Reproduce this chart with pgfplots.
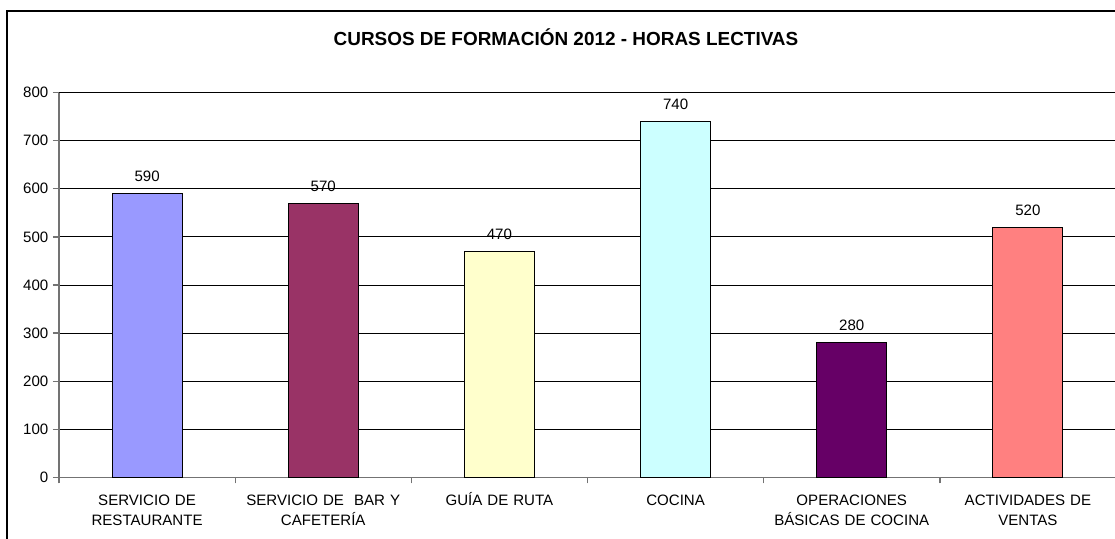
\documentclass[border=0pt]{standalone}
\usepackage{pgfplots}
\pgfplotsset{compat=1.18}
\usepackage{fontspec}
\setmainfont{Liberation Sans}
\definecolor{c1}{HTML}{9999FF}
\definecolor{c2}{HTML}{993366}
\definecolor{c3}{HTML}{FFFFCC}
\definecolor{c4}{HTML}{CCFFFF}
\definecolor{c5}{HTML}{660066}
\definecolor{c6}{HTML}{FF8080}
\begin{document}
\begin{tikzpicture}
\path[use as bounding box, clip] (0,0) rectangle (836.25pt,404.25pt);
\fill[white] (0,0) rectangle (836.25pt,404.25pt);
\draw[line width=1.3pt, black] (5.25pt,-20pt) -- (5.25pt,396pt) -- (900pt,396pt);
\node[anchor=base, font=\fontsize{14.2}{16}\selectfont\bfseries, inner sep=0pt] at (424.5pt,369.75pt) {CURSOS DE FORMACIÓN 2012 - HORAS LECTIVAS};
\begin{axis}[
  at={(44.25pt,46.125pt)}, anchor=south west,
  scale only axis, width=792.75pt, height=288.75pt,
  xmin=-0.5, xmax=5.5, ymin=0, ymax=800,
  axis x line*=bottom, axis y line*=left,
  axis line style={draw=black!55, line width=1.1pt},
  ybar, bar width=52.5pt,
  xtick={-0.5,0.5,...,5.5},
  x tick label as interval,
  xticklabels={\strut SERVICIO DE\\RESTAURANTE, \strut SERVICIO DE\ \ BAR Y\\CAFETERÍA, \strut GUÍA DE RUTA, \strut COCINA, \strut OPERACIONES\\BÁSICAS DE COCINA, \strut ACTIVIDADES DE\\VENTAS},
  x tick label style={font=\fontsize{11.3}{15}\selectfont, text width=150pt, align=center, yshift=-2.5pt},
  ytick={0,100,...,800},
  y tick label style={font=\fontsize{11.3}{13}\selectfont},
  /pgf/number format/assume math mode=true,
  tick align=outside, major tick length=4.5pt,
  tick style={draw=black!55, line width=1pt},
  ymajorgrids, grid style={draw=black, line width=0.6pt},
  nodes near coords,
  every node near coord/.append style={font=\fontsize{11.3}{13}\selectfont, inner sep=0pt, anchor=base, yshift=9pt},
  every axis plot/.append style={bar shift=0pt, draw=black, line width=0.8pt},
  clip=false,
]
\addplot[fill=c1] coordinates {(0,590)};
\addplot[fill=c2] coordinates {(1,570)};
\addplot[fill=c3] coordinates {(2,470)};
\addplot[fill=c4] coordinates {(3,740)};
\addplot[fill=c5] coordinates {(4,280)};
\addplot[fill=c6] coordinates {(5,520)};
\end{axis}
\end{tikzpicture}
\end{document}
